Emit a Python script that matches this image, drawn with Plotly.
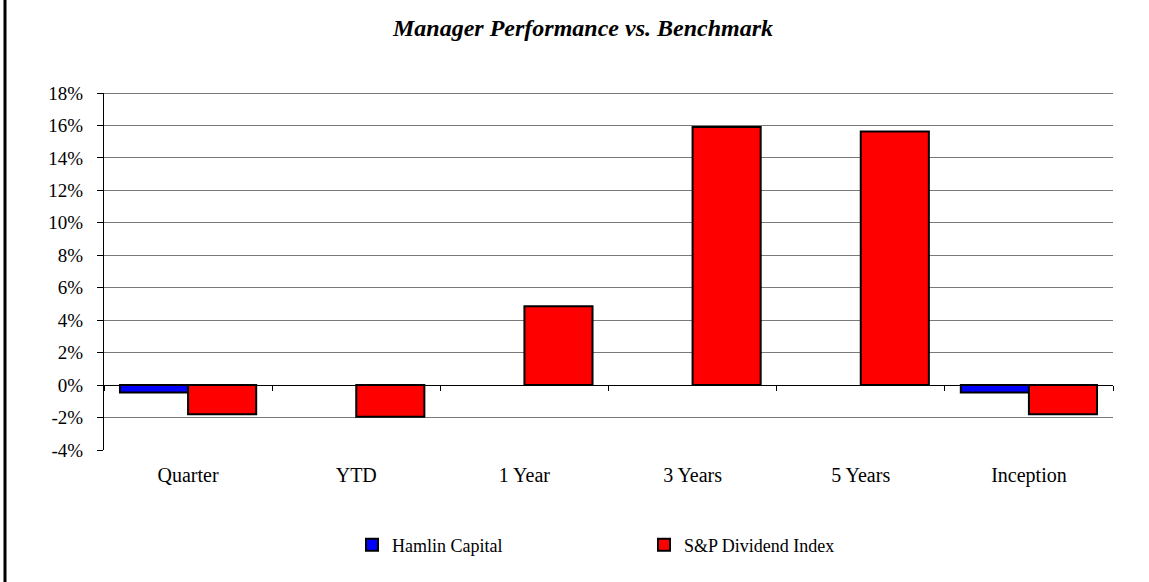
import plotly.graph_objects as go

categories = ["Quarter", "YTD", "1 Year", "3 Years", "5 Years", "Inception"]
hamlin = [-0.0045, None, None, None, None, -0.0045]
sp_div = [-0.018, -0.0195, 0.0486, 0.159, 0.1562, -0.018]
y_ticks = [-0.04, -0.02, 0.0, 0.02, 0.04, 0.06, 0.08, 0.10, 0.12, 0.14, 0.16, 0.18]
y_min, y_max = y_ticks[0], y_ticks[-1]
y_labels = [f"{round(v * 100):d}%" for v in y_ticks]

W, H = 1149, 582
ml, mr, mt, mb = 104, 36, 93, 132
pw = W - ml - mr
ph = H - mt - mb

font = "Liberation Serif, Times New Roman, serif"
grid = "#7a7a7a"

fig = go.Figure()
fig.add_trace(go.Bar(name="Hamlin Capital", x=categories, y=hamlin,
                     marker=dict(color="#0000FF", line=dict(color="black", width=2))))
fig.add_trace(go.Bar(name="S&P Dividend Index", x=categories, y=sp_div,
                     marker=dict(color="#FF0000", line=dict(color="black", width=2))))

n = len(categories)
zero_pos = (0 - y_min) / (y_max - y_min)

# invisible helper traces so that the decorative overlay axes are drawn
for ax in ("x2", "x3"):
    fig.add_trace(go.Scatter(x=list(range(n)), y=[None] * n, xaxis=ax, yaxis="y",
                             mode="none", showlegend=False, hoverinfo="skip"))

fig.update_layout(
    width=W, height=H,
    margin=dict(l=ml, r=mr, t=mt, b=mb),
    paper_bgcolor="white", plot_bgcolor="white",
    barmode="group", bargap=0.19, bargroupgap=0,
    font=dict(family=font, size=19, color="black"),
    title=dict(text="<b><i>Manager Performance vs. Benchmark</i></b>",
               x=(583 - ml) / pw, xref="paper", xanchor="center",
               y=1 - 28 / H, yanchor="middle",
               font=dict(family=font, size=24, color="black")),
    xaxis=dict(type="category", categoryorder="array", categoryarray=categories,
               range=[-0.5, n - 0.5], showline=False, showgrid=False, ticks="",
               ticklabelstandoff=11, tickfont=dict(family=font, size=20)),
    xaxis2=dict(overlaying="x", anchor="free", position=zero_pos, type="linear",
                range=[-0.5, n - 0.5], tickmode="array",
                tickvals=[i - 0.5 for i in range(n + 1)],
                showticklabels=False, ticks="outside", ticklen=5, tickcolor="black",
                showline=True, linecolor="black", linewidth=1, showgrid=False,
                zeroline=False),
    xaxis3=dict(overlaying="x", anchor="free", position=1, side="top", type="linear",
                range=[-0.5, n - 0.5], showticklabels=False, ticks="",
                showline=True, linecolor=grid, linewidth=1, showgrid=False,
                zeroline=False),
    yaxis=dict(range=[y_min, y_max], tickmode="array", tickvals=y_ticks,
               ticktext=y_labels,
               showline=True, linecolor="black", linewidth=1,
               ticks="outside", ticklen=6, tickcolor="black",
               showgrid=True, gridcolor=grid, gridwidth=1,
               zeroline=True, zerolinecolor="black", zerolinewidth=1,
               ticklabelstandoff=10, tickfont=dict(family=font, size=19)),
    legend=dict(orientation="h", x=(352 - ml) / pw, xanchor="left",
                y=-(545 - (mt + ph)) / ph, yanchor="middle",
                entrywidth=247, entrywidthmode="pixels",
                font=dict(family=font, size=18), bgcolor="rgba(0,0,0,0)"),
    showlegend=True,
)

fig.add_shape(type="line", xref="paper", yref="paper",
              x0=-(ml - 5) / pw, x1=-(ml - 5) / pw, y0=-mb / ph, y1=1 + mt / ph,
              line=dict(color="black", width=3))

fig.write_html("out.html", config={"displayModeBar": False},
               post_script="document.body.style.margin='0';")
